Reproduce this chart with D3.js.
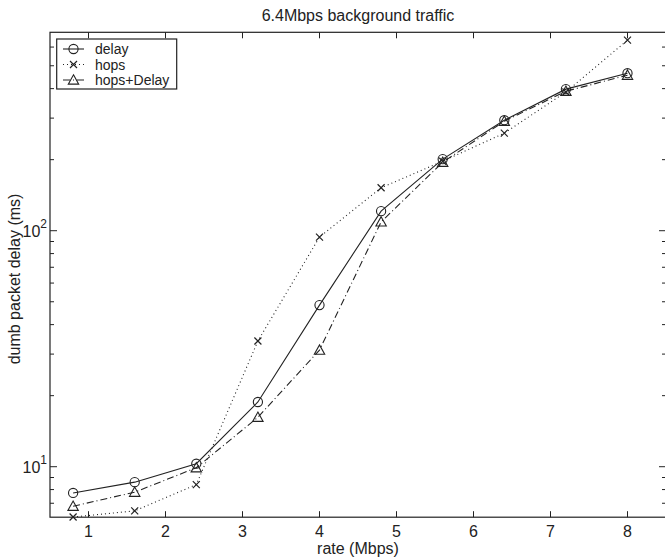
<!DOCTYPE html>
<html>
<head>
<meta charset="utf-8">
<script src="https://d3js.org/d3.v7.min.js"></script>
<style>
  body { margin: 0; background: #fff; }
  svg { display: block; }
  text { font-family: "Liberation Sans", Arial, sans-serif; fill: #222; }
</style>
</head>
<body>
<svg id="chart" width="665" height="558"></svg>
<script>
// rate values (Mbps)
var rates = [0.8, 1.6, 2.4, 3.2, 4.0, 4.8, 5.6, 6.4, 7.2, 8.0];
// dumb packet delay (ms)
var delayVals = [7.74, 8.6, 10.3, 18.8, 48.4, 121, 201, 294, 398, 465];
var hopsVals = [6.12, 6.5, 8.4, 34.1, 94, 152, 197, 259, 387, 642];
var hopsDelayVals = [6.8, 7.8, 9.9, 16.2, 31.2, 109, 195, 291, 390, 456];
var xTicks = [1, 2, 3, 4, 5, 6, 7, 8];
var yMajor = [10, 100];
var seriesNames = ["delay", "hops", "hops+Delay"];

var svg = d3.select("#chart");
var pLeft = 50, pRight = 666, pTop = 32.3, pBottom = 517.2;

var x = d3.scaleLinear().domain([0.5, 8.5]).range([pLeft, pRight]);
var y = d3.scaleLog().domain([6.11, 693]).range([pBottom, pTop]);

var ink = "#222";

// plot frame
svg.append("rect")
  .attr("x", pLeft).attr("y", pTop)
  .attr("width", pRight - pLeft).attr("height", pBottom - pTop)
  .attr("fill", "none").attr("stroke", ink).attr("stroke-width", 1.2);

// x ticks (bottom + top, inward)
var gx = svg.append("g");
xTicks.forEach(function (t) {
  gx.append("line").attr("x1", x(t)).attr("x2", x(t)).attr("y1", pBottom).attr("y2", pBottom - 6)
    .attr("stroke", ink);
  gx.append("line").attr("x1", x(t)).attr("x2", x(t)).attr("y1", pTop).attr("y2", pTop + 6)
    .attr("stroke", ink);
  gx.append("text").attr("x", x(t)).attr("y", pBottom + 20)
    .attr("text-anchor", "middle").attr("font-size", 16).text(t);
});

// y ticks: major and minor on both sides
var minor = [];
[1, 10, 100].forEach(function (dec) {
  for (var k = 2; k <= 9; k++) {
    var v = dec * k;
    if (v >= y.domain()[0] && v <= y.domain()[1]) minor.push(v);
  }
});
var gy = svg.append("g");
minor.forEach(function (v) {
  gy.append("line").attr("x1", pLeft).attr("x2", pLeft + 4).attr("y1", y(v)).attr("y2", y(v)).attr("stroke", ink);
  gy.append("line").attr("x1", pRight).attr("x2", pRight - 4).attr("y1", y(v)).attr("y2", y(v)).attr("stroke", ink);
});
yMajor.forEach(function (v) {
  gy.append("line").attr("x1", pLeft).attr("x2", pLeft + 7).attr("y1", y(v)).attr("y2", y(v)).attr("stroke", ink);
  gy.append("line").attr("x1", pRight).attr("x2", pRight - 7).attr("y1", y(v)).attr("y2", y(v)).attr("stroke", ink);
  var lab = gy.append("text").attr("x", 47).attr("y", y(v) + 6)
    .attr("text-anchor", "end").attr("font-size", 16);
  lab.append("tspan").text("10");
  lab.append("tspan").attr("dy", -9).attr("font-size", 12).text(Math.round(Math.log10(v)));
});

// titles
svg.append("text").attr("x", (pLeft + pRight) / 2).attr("y", 21)
  .attr("text-anchor", "middle").attr("font-size", 16).text("6.4Mbps background traffic");
svg.append("text").attr("x", (pLeft + pRight) / 2).attr("y", 554)
  .attr("text-anchor", "middle").attr("font-size", 16).text("rate (Mbps)");
svg.append("text").attr("transform", "translate(20,279) rotate(-90)")
  .attr("text-anchor", "middle").attr("font-size", 16).text("dumb packet delay (ms)");

// series
var dashes = ["none", "1,3", "7,3,1,3"];
var allVals = [delayVals, hopsVals, hopsDelayVals];
var line = d3.line().x(function (d, i) { return x(rates[i]); }).y(function (d) { return y(d); });

function marker(g, kind, cx, cy) {
  if (kind === 0) {
    g.append("circle").attr("cx", cx).attr("cy", cy).attr("r", 4.6)
      .attr("fill", "none").attr("stroke", ink).attr("stroke-width", 1.1);
  } else if (kind === 1) {
    var s = 3.5;
    g.append("path").attr("d", "M" + (cx - s) + "," + (cy - s) + "L" + (cx + s) + "," + (cy + s) +
      "M" + (cx - s) + "," + (cy + s) + "L" + (cx + s) + "," + (cy - s))
      .attr("stroke", ink).attr("stroke-width", 1.2);
  } else {
    var h = 5.2;
    g.append("path").attr("d", "M" + cx + "," + (cy - h) + "L" + (cx + h) + "," + (cy + h * 0.8) +
      "L" + (cx - h) + "," + (cy + h * 0.8) + "Z")
      .attr("fill", "none").attr("stroke", ink).attr("stroke-width", 1.1);
  }
}

allVals.forEach(function (vals, s) {
  var g = svg.append("g");
  g.append("path").datum(vals).attr("d", line)
    .attr("fill", "none").attr("stroke", ink).attr("stroke-width", 1.1)
    .attr("stroke-dasharray", dashes[s]);
  vals.forEach(function (v, i) { marker(g, s, x(rates[i]), y(v)); });
});

// legend
var lg = svg.append("g");
lg.append("rect").attr("x", 56.7).attr("y", 39).attr("width", 120).attr("height", 50)
  .attr("fill", "#fff").attr("stroke", ink).attr("stroke-width", 1.2);
seriesNames.forEach(function (n, i) {
  var ly = 49 + i * 15.5;
  lg.append("line").attr("x1", 63).attr("x2", 84).attr("y1", ly).attr("y2", ly)
    .attr("stroke", ink).attr("stroke-width", 1.1).attr("stroke-dasharray", dashes[i]);
  marker(lg, i, 73.5, ly);
  lg.append("text").attr("x", 95).attr("y", ly + 5).attr("font-size", 14).text(n);
});
</script>
</body>
</html>
